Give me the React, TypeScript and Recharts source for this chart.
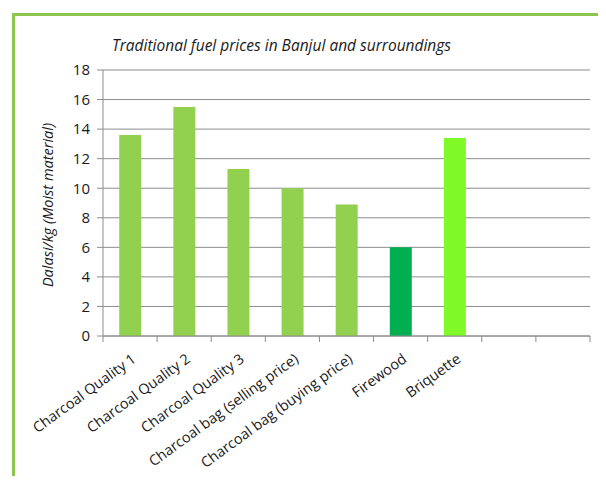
import React from "react";
import { BarChart, Bar, XAxis, YAxis, CartesianGrid, Cell } from "recharts";

const categories = [
  "Charcoal Quality 1",
  "Charcoal Quality 2",
  "Charcoal Quality 3",
  "Charcoal bag (selling price)",
  "Charcoal bag (buying price)",
  "Firewood",
  "Briquette",
  "",
  "",
];
const prices: (number | null)[] = [13.6, 15.5, 11.3, 10.0, 8.9, 6.0, 13.4, null, null];
const barColors = ["#92D050", "#92D050", "#92D050", "#92D050", "#92D050", "#00B050", "#7FFA28", "#92D050", "#92D050"];
const yTicks = [0, 2, 4, 6, 8, 10, 12, 14, 16, 18];

const title = "Traditional fuel prices in Banjul and surroundings";
const yLabel = "Dalasi/kg (Moist material)";

const data = categories.map((c, i) => ({ name: c, value: prices[i] }));

const FONT = "'Open Sans', Lato, sans-serif";
const TEXT = "#1a1a1a";
const AXIS = "#8C8C8C";

const CatTick = (props: any) => {
  const { x, y, payload, index, visibleTicksCount, width } = props;
  const half =
    payload && payload.offset > 0 ? payload.offset : width / (visibleTicksCount || 1) / 2;
  const axisY = y - 8;
  const ax = x + 7;
  const ay = y + 17;
  const isLast = index === visibleTicksCount - 1;
  return (
    <g>
      <line x1={x - half} x2={x - half} y1={axisY} y2={axisY + 6} stroke={AXIS} />
      {isLast && <line x1={x + half} x2={x + half} y1={axisY} y2={axisY + 6} stroke={AXIS} />}
      <text
        x={ax}
        y={ay}
        transform={`rotate(-36, ${ax}, ${ay})`}
        textAnchor="end"
        fontSize={14.5}
        fontFamily={FONT}
        fill={TEXT}
      >
        {payload.value}
      </text>
    </g>
  );
};

const YLabel = () => (
  <text
    x={47}
    y={205}
    transform="rotate(-90, 47, 205)"
    textAnchor="middle"
    dominantBaseline="central"
    fontSize={14.5}
    fontStyle="italic"
    fontFamily={FONT}
    fill={TEXT}
  >
    {yLabel}
  </text>
);

export default function App() {
  return (
    <div style={{ position: "relative", width: 606, height: 484, margin: -8, overflow: "hidden", background: "#fff" }}>
      <div
        style={{
          position: "absolute",
          left: 12,
          top: 13,
          width: 640,
          height: 520,
          border: "3px solid #8DC64F",
          boxSizing: "border-box",
        }}
      />
      <div
        style={{
          position: "absolute",
          left: 112,
          top: 34,
          fontFamily: FONT,
          fontStyle: "italic",
          fontSize: 15.5,
          color: TEXT,
          whiteSpace: "nowrap",
        }}
      >
        {title}
      </div>
      <div style={{ position: "absolute", left: 0, top: 0 }}>
        <BarChart
          width={606}
          height={484}
          data={data}
          margin={{ top: 70, right: 16, bottom: 0, left: 43 }}
          barCategoryGap="30%"
        >
          <CartesianGrid vertical={false} stroke={AXIS} strokeWidth={1} />
          <XAxis
            dataKey="name"
            height={148}
            axisLine={{ stroke: AXIS }}
            tickLine={false}
            tickSize={6}
            tickMargin={2}
            interval={0}
            tick={<CatTick />}
          />
          <YAxis
            domain={[0, 18]}
            ticks={yTicks}
            width={60}
            tickSize={6}
            tickMargin={7}
            axisLine={{ stroke: AXIS }}
            tickLine={{ stroke: AXIS }}
            tick={{ fontSize: 15, fontFamily: FONT, fill: TEXT }}
            label={<YLabel />}
          />
          <Bar dataKey="value" isAnimationActive={false}>
            {data.map((d, i) => (
              <Cell key={i} fill={barColors[i]} />
            ))}
          </Bar>
        </BarChart>
      </div>
    </div>
  );
}
